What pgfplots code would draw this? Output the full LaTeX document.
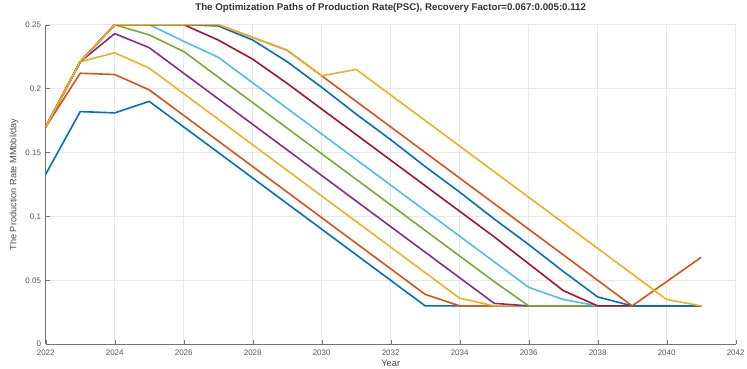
\documentclass[border=0pt]{standalone}
\usepackage{fontspec}
\setmainfont{Liberation Sans}
\usepackage{pgfplots}
\pgfplotsset{compat=1.18}
\definecolor{mB}{rgb}{0,0.447,0.741}
\definecolor{mO}{rgb}{0.85,0.325,0.098}
\definecolor{mY}{rgb}{0.929,0.694,0.125}
\definecolor{mP}{rgb}{0.494,0.184,0.556}
\definecolor{mG}{rgb}{0.466,0.674,0.188}
\definecolor{mC}{rgb}{0.301,0.745,0.933}
\definecolor{mR}{rgb}{0.635,0.078,0.184}
\begin{document}
\begin{tikzpicture}
\path[use as bounding box] (-34.3pt,-18.5pt) rectangle (526pt,258.2pt);
\begin{axis}[
  at={(0,0)}, anchor=south west,
  scale only axis, width=517.5pt, height=239.7pt,
  xmin=2022, xmax=2042, ymin=0, ymax=0.25,
  axis x line*=bottom, axis y line*=left,
  axis line style={-, draw=black!55},
  xtick={2022,2024,...,2042},
  xticklabels={2022,2024,2026,2028,2030,2032,2034,2036,2038,2040,2042},
  ytick={0,0.05,0.1,0.15,0.2,0.25},
  yticklabels={0,0.05,0.1,0.15,0.2,0.25},
  tick align=inside,
  major tick length=3.5pt,
  tick style={draw=black!55},
  ticklabel style={font=\fontsize{6}{7}\selectfont, text=black!65},
  xticklabel style={yshift=-1pt},
  grid=major,
  major grid style={draw=black!9, line width=0.5pt},
  title={The Optimization Paths of Production Rate(PSC), Recovery Factor=0.067:0.005:0.112},
  title style={font=\fontsize{7.3}{8}\selectfont\bfseries, text=black!80, at={(axis description cs:0.5,1.026)}, anchor=center},
  ylabel={The Production Rate MMbbl/day},
  ylabel style={font=\fontsize{6.9}{8}\selectfont, text=black!70, at={(axis description cs:-0.046,0.5)}, anchor=center},
  xlabel={Year},
  xlabel style={font=\fontsize{7}{8}\selectfont, text=black!70, at={(axis description cs:0.5,-0.06)}, anchor=center},
  every axis plot/.append style={line width=1.2pt, line join=round},
]
\addplot[mB] coordinates {(2022,0.133)(2023,0.182)(2024,0.181)(2025,0.190)(2026,0.170)(2027,0.150)(2028,0.130)(2029,0.110)(2030,0.090)(2031,0.070)(2032,0.050)(2033,0.030)(2034,0.030)(2035,0.030)(2036,0.030)(2037,0.030)(2038,0.030)(2039,0.030)(2040,0.030)(2041,0.030)};
\addplot[mO] coordinates {(2022,0.170)(2023,0.212)(2024,0.211)(2025,0.199)(2026,0.179)(2027,0.159)(2028,0.139)(2029,0.119)(2030,0.099)(2031,0.079)(2032,0.059)(2033,0.039)(2034,0.030)(2035,0.030)(2036,0.030)(2037,0.030)(2038,0.030)(2039,0.030)(2040,0.030)(2041,0.030)};
\addplot[mY] coordinates {(2022,0.170)(2023,0.221)(2024,0.228)(2025,0.216)(2026,0.196)(2027,0.176)(2028,0.156)(2029,0.136)(2030,0.116)(2031,0.096)(2032,0.076)(2033,0.056)(2034,0.036)(2035,0.030)(2036,0.030)(2037,0.030)(2038,0.030)(2039,0.030)(2040,0.030)(2041,0.030)};
\addplot[mP] coordinates {(2022,0.170)(2023,0.221)(2024,0.243)(2025,0.232)(2026,0.212)(2027,0.192)(2028,0.172)(2029,0.152)(2030,0.132)(2031,0.112)(2032,0.092)(2033,0.072)(2034,0.052)(2035,0.032)(2036,0.030)(2037,0.030)(2038,0.030)(2039,0.030)(2040,0.030)(2041,0.030)};
\addplot[mG] coordinates {(2022,0.170)(2023,0.221)(2024,0.250)(2025,0.242)(2026,0.229)(2027,0.209)(2028,0.189)(2029,0.169)(2030,0.149)(2031,0.129)(2032,0.109)(2033,0.089)(2034,0.069)(2035,0.049)(2036,0.030)(2037,0.030)(2038,0.030)(2039,0.030)(2040,0.030)(2041,0.030)};
\addplot[mC] coordinates {(2022,0.170)(2023,0.221)(2024,0.250)(2025,0.250)(2026,0.237)(2027,0.2245)(2028,0.2045)(2029,0.1845)(2030,0.1645)(2031,0.1445)(2032,0.1245)(2033,0.1045)(2034,0.0845)(2035,0.0645)(2036,0.0445)(2037,0.035)(2038,0.030)(2039,0.030)(2040,0.030)(2041,0.030)};
\addplot[mR] coordinates {(2022,0.170)(2023,0.221)(2024,0.250)(2025,0.250)(2026,0.250)(2027,0.238)(2028,0.223)(2029,0.204)(2030,0.184)(2031,0.164)(2032,0.144)(2033,0.124)(2034,0.104)(2035,0.084)(2036,0.063)(2037,0.042)(2038,0.030)(2039,0.030)(2040,0.030)(2041,0.030)};
\addplot[mB] coordinates {(2022,0.170)(2023,0.221)(2024,0.250)(2025,0.250)(2026,0.250)(2027,0.249)(2028,0.238)(2029,0.221)(2030,0.201)(2031,0.180)(2032,0.160)(2033,0.139)(2034,0.119)(2035,0.098)(2036,0.078)(2037,0.057)(2038,0.037)(2039,0.030)(2040,0.030)(2041,0.030)};
\addplot[mO] coordinates {(2022,0.170)(2023,0.221)(2024,0.250)(2025,0.250)(2026,0.250)(2027,0.250)(2028,0.240)(2029,0.230)(2030,0.210)(2031,0.190)(2032,0.170)(2033,0.150)(2034,0.130)(2035,0.110)(2036,0.090)(2037,0.070)(2038,0.050)(2039,0.030)(2040,0.049)(2041,0.068)};
\addplot[mY] coordinates {(2022,0.170)(2023,0.221)(2024,0.250)(2025,0.250)(2026,0.250)(2027,0.250)(2028,0.240)(2029,0.230)(2030,0.210)(2031,0.215)(2032,0.195)(2033,0.175)(2034,0.155)(2035,0.135)(2036,0.115)(2037,0.095)(2038,0.075)(2039,0.055)(2040,0.035)(2041,0.030)};
\end{axis}
\end{tikzpicture}
\end{document}
